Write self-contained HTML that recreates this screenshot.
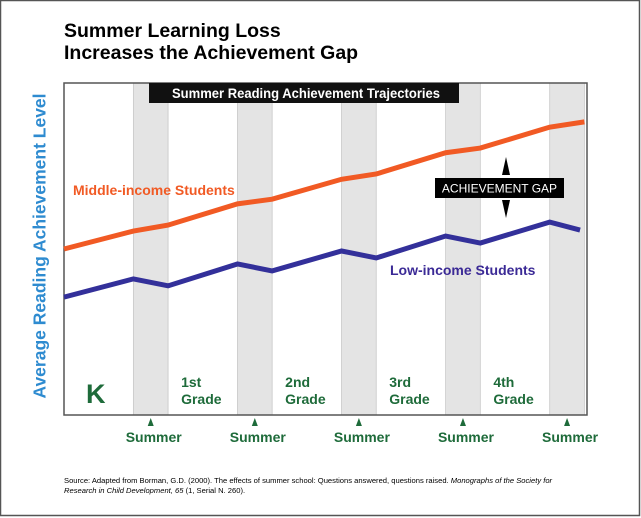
<!DOCTYPE html>
<html><head><meta charset="utf-8"><style>
html,body{margin:0;background:#fff;font-family:"Liberation Sans",Arial,sans-serif;overflow:hidden}
#wrap{position:relative;width:641px;height:518px;overflow:hidden}
</style></head><body>
<div id="wrap">
<svg id="svg" width="641" height="518" xmlns="http://www.w3.org/2000/svg" style="position:absolute;left:0;top:0" font-family="Liberation Sans, Arial, sans-serif">
<rect x="0.5" y="0.5" width="639" height="515" fill="#fff" stroke="#555" stroke-width="1.5"/>
<text x="64" y="37" font-size="19.5" font-weight="bold" fill="#000">Summer Learning Loss</text>
<text x="64" y="59" font-size="19.5" font-weight="bold" fill="#000">Increases the Achievement Gap</text>
<g id="bands"></g>
<rect x="64" y="83" width="523" height="332" fill="none" stroke="#555" stroke-width="1.5"/>
<rect x="149" y="83" width="310" height="20" fill="#111"/>
<text x="172" y="98" font-size="14" font-weight="bold" fill="#fff" textLength="268" lengthAdjust="spacingAndGlyphs">Summer Reading Achievement Trajectories</text>
<g id="lines"></g>
<text x="73" y="195" font-size="14" font-weight="bold" fill="#F15A24">Middle-income Students</text>
<text x="390" y="275" font-size="14" font-weight="bold" fill="#3B2A96">Low-income Students</text>
<rect x="435" y="178" width="129" height="20" fill="#000"/>
<text x="499.5" y="192.5" font-size="12" fill="#fff" text-anchor="middle">ACHIEVEMENT GAP</text>
<polygon points="506,157 502,175 510,175" fill="#000"/>
<polygon points="506,218 502,200 510,200" fill="#000"/>
<text x="86" y="403" font-size="27" font-weight="bold" fill="#1E6B3A">K</text>
<g id="grades" font-size="14" font-weight="bold" fill="#1E6B3A"></g>
<g id="summers"></g>
<text x="64" y="483" font-size="7.6" fill="#000">Source: Adapted from Borman, G.D. (2000). The effects of summer school: Questions answered, questions raised. <tspan font-style="italic">Monographs of the Society for</tspan></text>
<text x="64" y="493" font-size="7.6" fill="#000"><tspan font-style="italic">Research in Child Development, 65</tspan> (1, Serial N. 260).</text>
</svg>
<div style="position:absolute;left:40px;top:246px;transform:translate(-50%,-50%) rotate(-90deg);white-space:nowrap;font-size:17.5px;font-weight:bold;color:#2E8BD0">Average Reading Achievement Level</div>
</div>
<script>
// time in months from start of K; level in arbitrary units (0-100)
const monthsMiddle=[0,8,12,20,24,32,36,44,48,56,60];
const middleIncome=[50,55.4,57.2,63.6,65,71,72.6,79,80.4,86.7,88.3];
const monthsLow=[0,8,12,20,24,32,36,44,48,56,59.5];
const lowIncome=[35.5,41,38.9,45.5,43.4,49.4,47.3,53.9,51.8,58.1,55.7];
const summerStarts=[8,20,32,44,56];
const summerLength=4;
const gradeLabels=["1st","2nd","3rd","4th"];
const summerLabel="Summer";

const NS="http://www.w3.org/2000/svg";
const X0=64,X1=587,Y0=83,Y1=415,TMAX=60.3,VMAX=100;
const x=t=>X0+t/TMAX*(X1-X0);
const y=v=>Y1-v/VMAX*(Y1-Y0);
function mk(tag,attrs,parent){const e=document.createElementNS(NS,tag);for(const k in attrs)e.setAttribute(k,attrs[k]);parent.appendChild(e);return e;}
const bands=document.getElementById('bands');
summerStarts.forEach((s,i)=>{
  const e=mk('rect',{x:x(s),y:Y0,width:Math.min(x(s+summerLength),X1)-x(s),height:Y1-Y0,fill:'#e4e4e4',stroke:'#c8c8c8','stroke-width':0.8},bands);
  
  
});
const lines=document.getElementById('lines');
function line(ts,vs,color,name){
  const p=mk('polyline',{points:ts.map((t,i)=>x(t)+','+y(vs[i])).join(' '),fill:'none',stroke:color,'stroke-width':5,'stroke-linejoin':'miter'},lines);
  
  
}
line(monthsMiddle,middleIncome,'#F15A24','middle-income-line');
line(monthsLow,lowIncome,'#33309A','low-income-line');
const grades=document.getElementById('grades');
gradeLabels.forEach((g,i)=>{
  const gx=x(summerStarts[i]+summerLength)+13;
  const t1=mk('text',{x:gx,y:387},grades);t1.textContent=g;
  
  
  const t2=mk('text',{x:gx,y:404},grades);t2.textContent='Grade';
  
  
});
const summers=document.getElementById('summers');
summerStarts.forEach(s=>{
  const cx=(x(s)+Math.min(x(s+summerLength),X1))/2;
  const tri=mk('polygon',{points:`${cx},418 ${cx-3},426 ${cx+3},426`,fill:'#1E6B3A'},summers);
  
  
  const t=mk('text',{x:cx+3,y:442,'font-size':14,'font-weight':'bold',fill:'#1E6B3A','text-anchor':'middle'},summers);
  t.textContent=summerLabel;
  
  
});
</script>
</body></html>
